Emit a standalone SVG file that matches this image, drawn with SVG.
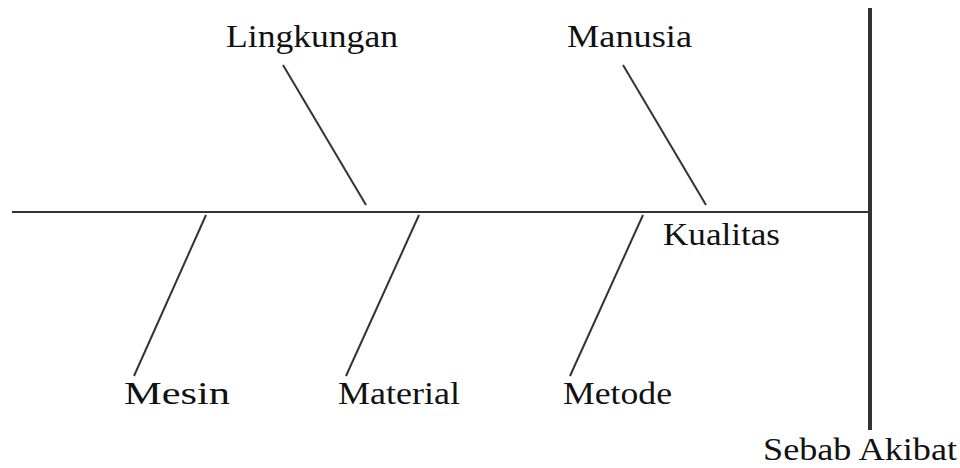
<svg xmlns="http://www.w3.org/2000/svg" width="960" height="468" viewBox="0 0 960 468">
<style>
.t{font-family:"Liberation Serif","Times New Roman",serif;font-size:31px;fill:#111}
.b{stroke:#333;stroke-width:2;fill:none;stroke-linecap:butt}
</style>
<rect width="960" height="468" fill="#fff"/>
<g id="connectors">
<line class="b" x1="12" y1="212" x2="868" y2="212"/>
<line x1="870" y1="8" x2="870" y2="430" stroke="#333" stroke-width="4"/>
<line class="b" x1="283" y1="65" x2="366" y2="205"/>
<line class="b" x1="623" y1="65" x2="706" y2="205"/>
<line class="b" x1="206" y1="215" x2="134" y2="376"/>
<line class="b" x1="419" y1="215" x2="346" y2="376"/>
<line class="b" x1="643" y1="215" x2="570" y2="376"/>
</g>
<g id="lingkungan"><text class="t" x="226" y="47" textLength="172" lengthAdjust="spacingAndGlyphs">Lingkungan</text></g>
<g id="manusia"><text class="t" x="567" y="47" textLength="125" lengthAdjust="spacingAndGlyphs">Manusia</text></g>
<g id="kualitas"><text class="t" x="663" y="245" textLength="117" lengthAdjust="spacingAndGlyphs">Kualitas</text></g>
<g id="mesin"><text class="t" x="124" y="404" textLength="106" lengthAdjust="spacingAndGlyphs">Mesin</text></g>
<g id="material"><text class="t" x="338" y="404" textLength="122" lengthAdjust="spacingAndGlyphs">Material</text></g>
<g id="metode"><text class="t" x="563" y="404" textLength="109" lengthAdjust="spacingAndGlyphs">Metode</text></g>
<g id="sebab-akibat"><text class="t" x="763" y="460" textLength="194" lengthAdjust="spacingAndGlyphs">Sebab Akibat</text></g>
</svg>
